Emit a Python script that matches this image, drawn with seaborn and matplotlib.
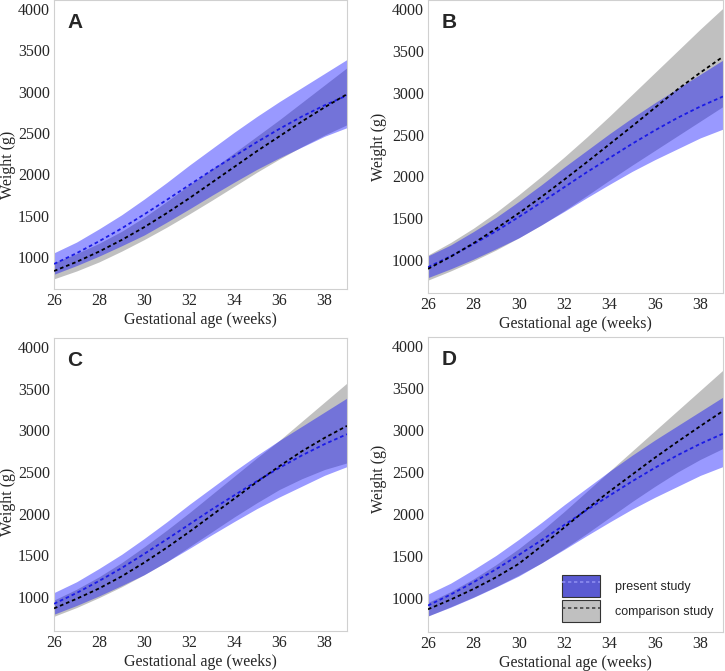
import matplotlib
matplotlib.use("Agg")
import matplotlib.pyplot as plt
import seaborn as sns
import pandas as pd
from matplotlib.patches import Patch
from matplotlib.lines import Line2D

weeks = [26, 27, 28, 29, 30, 31, 32, 33, 34, 35, 36, 37, 38, 39]

# present study (same in all panels)
present_med = [915, 1045, 1190, 1345, 1515, 1690, 1870, 2050, 2220, 2390, 2550, 2700, 2835, 2955]
present_up = [1050, 1180, 1340, 1510, 1700, 1900, 2110, 2310, 2510, 2700, 2880, 3050, 3220, 3390]
present_lo = [790, 895, 1010, 1135, 1265, 1420, 1580, 1745, 1905, 2060, 2200, 2330, 2460, 2565]

# comparison studies
compA_med = [830, 940, 1065, 1205, 1360, 1530, 1710, 1900, 2090, 2280, 2460, 2640, 2810, 2970]
compA_up = [930, 1040, 1165, 1310, 1480, 1670, 1870, 2060, 2260, 2460, 2660, 2870, 3080, 3290]
compA_lo = [735, 830, 940, 1070, 1210, 1360, 1520, 1685, 1855, 2025, 2185, 2335, 2475, 2600]

compB_med = [895, 1040, 1200, 1375, 1560, 1755, 1960, 2170, 2385, 2600, 2820, 3040, 3240, 3430]
compB_up = [1060, 1210, 1380, 1570, 1780, 2000, 2230, 2470, 2720, 2980, 3240, 3500, 3760, 4010]
compB_lo = [760, 870, 990, 1120, 1265, 1420, 1590, 1770, 1955, 2135, 2310, 2485, 2660, 2835]

compC_med = [860, 975, 1100, 1245, 1410, 1590, 1780, 1980, 2180, 2380, 2570, 2750, 2910, 3055]
compC_up = [960, 1090, 1240, 1410, 1600, 1800, 2010, 2230, 2450, 2670, 2880, 3110, 3340, 3570]
compC_lo = [765, 870, 990, 1120, 1265, 1420, 1600, 1780, 1960, 2130, 2290, 2420, 2530, 2610]

compD_med = [870, 985, 1110, 1250, 1410, 1620, 1840, 2060, 2270, 2470, 2670, 2860, 3045, 3225]
compD_up = [950, 1080, 1230, 1400, 1590, 1800, 2030, 2270, 2510, 2750, 2990, 3230, 3470, 3710]
compD_lo = [790, 900, 1015, 1140, 1275, 1420, 1590, 1770, 1960, 2150, 2330, 2500, 2650, 2780]

panel_letters = ["A", "B", "C", "D"]
x_ticks = [26, 28, 30, 32, 34, 36, 38]
y_ticks = [1000, 1500, 2000, 2500, 3000, 3500, 4000]
legend_labels = ["present study", "comparison study"]

comps = {
    "A": (compA_med, compA_up, compA_lo),
    "B": (compB_med, compB_up, compB_lo),
    "C": (compC_med, compC_up, compC_lo),
    "D": (compD_med, compD_up, compD_lo),
}

sns.set_theme(style="white")
plt.rcParams["font.family"] = ["Liberation Serif", "DejaVu Serif"]

fig = plt.figure(figsize=(7.25, 6.71), dpi=100)
positions = {
    "A": [0.0745, 0.5693, 0.4041, 0.4307],
    "B": [0.5903, 0.5633, 0.4069, 0.4367],
    "C": [0.0745, 0.0596, 0.4041, 0.4367],
    "D": [0.5903, 0.0581, 0.4069, 0.4396],
}
ylims = {"A": (612, 4110), "B": (606, 4108), "C": (588, 4112), "D": (600, 4103)}
ylabel_xy = {"A": (-0.13, 0.43), "B": (-0.14, 0.50), "C": (-0.13, 0.44), "D": (-0.14, 0.52)}

GRAY = "#c0c0c0"
BLUE = "#0000ff"
BLUE_LINE = "#1a1ae6"
DASH = (0, (2.0, 1.6))

for letter in panel_letters:
    ax = fig.add_axes(positions[letter])
    cmed, cup, clo = comps[letter]
    df = pd.DataFrame({
        "week": weeks * 2,
        "weight": present_med + cmed,
        "study": ["present"] * len(weeks) + ["comparison"] * len(weeks),
    })
    ax.fill_between(weeks, clo, cup, color=GRAY, lw=0, zorder=1)
    ax.fill_between(weeks, present_lo, present_up, color=BLUE, alpha=0.40, lw=0, zorder=2)
    sns.lineplot(data=df[df.study == "present"], x="week", y="weight", ax=ax,
                 color=BLUE_LINE, lw=1.3, zorder=3, legend=False)
    sns.lineplot(data=df[df.study == "comparison"], x="week", y="weight", ax=ax,
                 color="black", lw=1.3, zorder=4, legend=False)
    for ln in ax.lines:
        ln.set_linestyle(DASH)
    ax.set_xlim(26, 39)
    ax.set_ylim(*ylims[letter])
    ax.set_xticks(x_ticks)
    ax.set_yticks(y_ticks)
    ax.tick_params(axis="both", labelsize=11.5, length=0, pad=3)
    ax.set_xlabel("Gestational age (weeks)", fontsize=11.5, labelpad=2)
    ax.set_ylabel("Weight (g)", fontsize=11.5)
    ax.yaxis.set_label_coords(*ylabel_xy[letter])
    for s in ax.spines.values():
        s.set_color("#d0d0d0")
        s.set_linewidth(0.8)
    ax.text(0.045, 0.955, letter, transform=ax.transAxes, fontsize=15,
            fontweight="bold", family=["Liberation Sans", "DejaVu Sans"],
            va="top", ha="left")
    if letter == "D":
        h1 = (Patch(facecolor="#5a5ad2", edgecolor="#333333", lw=0.8),
              Line2D([], [], color="#8c8cf0", ls=DASH, lw=1.2))
        h2 = (Patch(facecolor=GRAY, edgecolor="#333333", lw=0.8),
              Line2D([], [], color="#444444", ls=DASH, lw=1.2))
        ax.legend([h1, h2], legend_labels, loc="lower right", frameon=False,
                  prop={"family": ["Liberation Sans", "DejaVu Sans"], "size": 9},
                  handlelength=3.0, handleheight=2.3, labelspacing=0.3,
                  handletextpad=1.2, borderaxespad=0.4, bbox_to_anchor=(1.0, 0.0))

fig.savefig("out.png", dpi=100)
